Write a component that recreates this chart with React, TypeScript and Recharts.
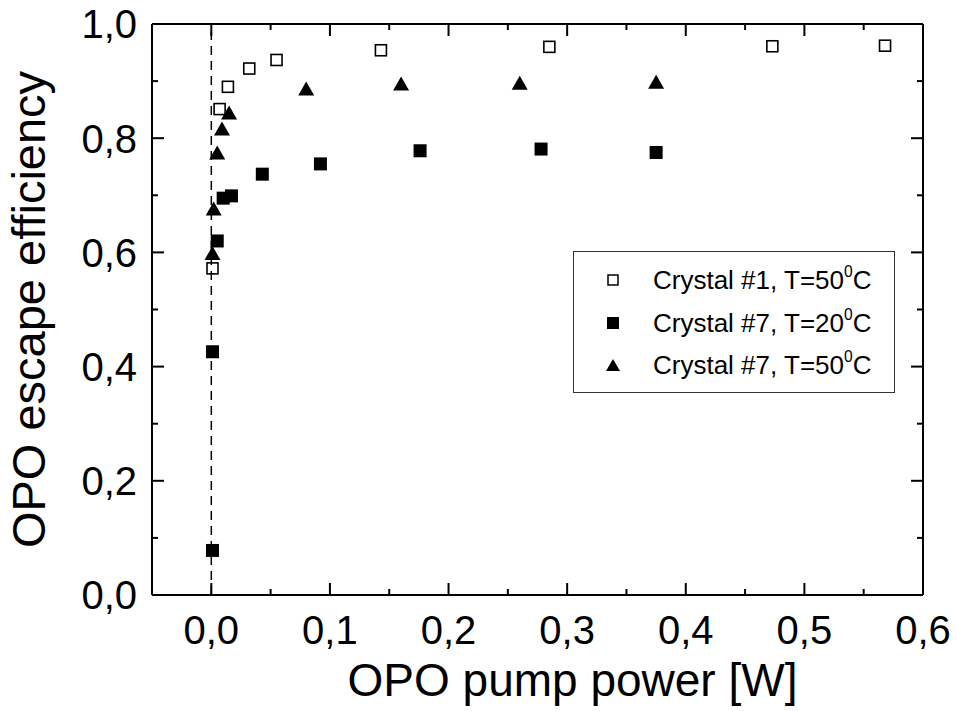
import { ScatterChart, Scatter, XAxis, YAxis, ReferenceLine, Legend, Label } from 'recharts';

const FONT = '"Liberation Sans", Arial, Helvetica, sans-serif';

// Crystal #1, T=50°C (open squares)
const c1X = [0.001, 0.007, 0.014, 0.032, 0.055, 0.143, 0.285, 0.473, 0.568];
const c1Y = [0.572, 0.851, 0.89, 0.922, 0.937, 0.954, 0.96, 0.961, 0.962];

// Crystal #7, T=20°C (filled squares)
const c7cX = [0.001, 0.001, 0.005, 0.01, 0.017, 0.043, 0.092, 0.176, 0.278, 0.375];
const c7cY = [0.078, 0.426, 0.62, 0.695, 0.699, 0.737, 0.755, 0.778, 0.781, 0.775];

// Crystal #7, T=50°C (triangles)
const c7hX = [0.001, 0.002, 0.005, 0.009, 0.015, 0.08, 0.16, 0.26, 0.375];
const c7hY = [0.599, 0.677, 0.775, 0.817, 0.845, 0.887, 0.896, 0.897, 0.899];

const seriesLabels = ['Crystal #1, T=50', 'Crystal #7, T=20', 'Crystal #7, T=50'];

const xTicks = [-0.05, 0, 0.05, 0.1, 0.15, 0.2, 0.25, 0.3, 0.35, 0.4, 0.45, 0.5, 0.55, 0.6];
const yTicks = [0, 0.1, 0.2, 0.3, 0.4, 0.5, 0.6, 0.7, 0.8, 0.9, 1.0];

const zip = (xs: number[], ys: number[]) => xs.map((x, i) => ({ x, y: ys[i] }));

const fmt = (v: number) => v.toFixed(1).replace('.', ',');
const isMultiple = (v: number, step: number) => Math.abs(v / step - Math.round(v / step)) < 1e-6;

// layout
const W = 957;
const H = 711;
const M_TOP = 23;
const M_RIGHT = 33;
const LEFT_W = 152;
const BOTTOM_H = 116;
const PLOT_W = W - M_RIGHT - 1 - LEFT_W;
const PLOT_H = H - M_TOP - 1 - BOTTOM_H;

const MAJOR = 12;
const MINOR = 6;

// top axis draws inward ticks on top and bottom edges of the frame
function TopTick(props: any) {
  const { x, y, payload } = props;
  const len = isMultiple(payload.value, 0.1) ? MAJOR : MINOR;
  const yb = y + PLOT_H;
  return (
    <g>
      <line x1={x} x2={x} y1={y} y2={y + len} stroke="#000" strokeWidth={2} />
      <line x1={x} x2={x} y1={yb} y2={yb - len} stroke="#000" strokeWidth={2} />
    </g>
  );
}

// right axis draws inward ticks on right and left edges
function RightTick(props: any) {
  const { x, y, payload } = props;
  const len = isMultiple(payload.value, 0.2) ? MAJOR : MINOR;
  const xl = x - PLOT_W;
  return (
    <g>
      <line x1={x} x2={x - len} y1={y} y2={y} stroke="#000" strokeWidth={2} />
      <line x1={xl} x2={xl + len} y1={y} y2={y} stroke="#000" strokeWidth={2} />
    </g>
  );
}

function BottomLabel(props: any) {
  const { x, y, payload } = props;
  if (!isMultiple(payload.value, 0.1)) return <g />;
  return (
    <text x={x} y={y + 21} dy="0.71em" textAnchor="middle" fontSize={40} fontFamily={FONT} fill="#000">
      {fmt(payload.value)}
    </text>
  );
}

function LeftLabel(props: any) {
  const { x, y, payload } = props;
  if (!isMultiple(payload.value, 0.2)) return <g />;
  return (
    <text x={x - 15} y={y} dy="0.36em" textAnchor="end" fontSize={40} fontFamily={FONT} fill="#000">
      {fmt(payload.value)}
    </text>
  );
}

const openSquare = (p: any) => (
  <rect x={p.cx - 5.5} y={p.cy - 5.5} width={11} height={11} fill="none" stroke="#000" strokeWidth={1.6} />
);
const filledSquare = (p: any) => <rect x={p.cx - 6.5} y={p.cy - 6.5} width={13} height={13} fill="#000" />;
const triangle = (p: any) => (
  <polygon points={`${p.cx - 8},${p.cy + 7} ${p.cx + 8},${p.cy + 7} ${p.cx},${p.cy - 7}`} fill="#000" />
);
const nothing = () => <g />;

function LegendSymbol({ i }: { i: number }) {
  return (
    <svg width={24} height={24} style={{ display: 'block' }}>
      {i === 0 && <rect x={7} y={7} width={10} height={10} fill="none" stroke="#000" strokeWidth={1.5} />}
      {i === 1 && <rect x={6} y={6} width={12} height={12} fill="#000" />}
      {i === 2 && <polygon points="5,18 19,18 12,6" fill="#000" />}
    </svg>
  );
}

function LegendBox() {
  return (
    <div
      style={{
        width: 322,
        height: 142,
        border: '1.5px solid #333',
        boxSizing: 'border-box',
        background: '#fff',
        fontFamily: FONT,
        fontSize: 26,
        position: 'relative',
        color: '#000',
      }}
    >
      {seriesLabels.map((label, i) => (
        <div
          key={label + i}
          style={{ position: 'absolute', left: 27, top: 7 + i * 42.5, height: 42, display: 'flex', alignItems: 'center' }}
        >
          <LegendSymbol i={i} />
          <span style={{ marginLeft: 28, whiteSpace: 'nowrap', lineHeight: '42px' }}>
            {label}
            <sup style={{ fontSize: '0.6em', verticalAlign: '0.75em', lineHeight: 0 }}>0</sup>C
          </span>
        </div>
      ))}
    </div>
  );
}

export default function App() {
  return (
    <div style={{ position: 'absolute', left: 0, top: 0, background: '#fff' }}>
      <ScatterChart width={W} height={H} margin={{ top: M_TOP, right: M_RIGHT, bottom: 0, left: 0 }}>
        <XAxis
          xAxisId="b"
          type="number"
          dataKey="x"
          domain={[-0.05, 0.6]}
          ticks={xTicks}
          interval={0}
          allowDataOverflow
          height={BOTTOM_H}
          tickSize={0}
          tickMargin={0}
          tickLine={false}
          tick={BottomLabel}
          stroke="#000"
          axisLine={{ stroke: '#000', strokeWidth: 2 }}
        >
          <Label
            value="OPO pump power [W]"
            position="insideBottom"
            offset={15}
            dx={35}
            style={{ fontSize: 46, fontFamily: FONT, fill: '#000' }}
          />
        </XAxis>
        <XAxis
          xAxisId="t"
          orientation="top"
          type="number"
          dataKey="x"
          domain={[-0.05, 0.6]}
          ticks={xTicks}
          interval={0}
          allowDataOverflow
          height={1}
          tickSize={0}
          tickMargin={0}
          tickLine={false}
          tick={TopTick}
          stroke="#000"
          axisLine={{ stroke: '#000', strokeWidth: 2 }}
        />
        <YAxis
          yAxisId="l"
          type="number"
          dataKey="y"
          domain={[0, 1]}
          ticks={yTicks}
          interval={0}
          allowDataOverflow
          width={LEFT_W}
          tickSize={0}
          tickMargin={0}
          tickLine={false}
          tick={LeftLabel}
          stroke="#000"
          axisLine={{ stroke: '#000', strokeWidth: 2 }}
        >
          <Label
            value="OPO escape efficiency"
            angle={-90}
            position="insideLeft"
            offset={28}
            style={{ fontSize: 47, fontFamily: FONT, fill: '#000', textAnchor: 'middle' }}
          />
        </YAxis>
        <YAxis
          yAxisId="r"
          orientation="right"
          type="number"
          dataKey="y"
          domain={[0, 1]}
          ticks={yTicks}
          interval={0}
          allowDataOverflow
          width={1}
          tickSize={0}
          tickMargin={0}
          tickLine={false}
          tick={RightTick}
          stroke="#000"
          axisLine={{ stroke: '#000', strokeWidth: 2 }}
        />
        <ReferenceLine xAxisId="b" yAxisId="l" x={0} stroke="#000" strokeWidth={1.5} strokeDasharray="9 6" />
        {/* invisible series so the mirrored top/right axes get their ticks */}
        <Scatter
          xAxisId="t"
          yAxisId="r"
          data={zip(c1X, c1Y)}
          shape={nothing}
          legendType="none"
          isAnimationActive={false}
        />
        <Scatter
          xAxisId="b"
          yAxisId="l"
          name={seriesLabels[0]}
          data={zip(c1X, c1Y)}
          shape={openSquare}
          isAnimationActive={false}
        />
        <Scatter
          xAxisId="b"
          yAxisId="l"
          name={seriesLabels[1]}
          data={zip(c7cX, c7cY)}
          shape={filledSquare}
          isAnimationActive={false}
        />
        <Scatter
          xAxisId="b"
          yAxisId="l"
          name={seriesLabels[2]}
          data={zip(c7hX, c7hY)}
          shape={triangle}
          isAnimationActive={false}
        />
        <Legend
          layout="vertical"
          align="center"
          verticalAlign="middle"
          content={() => <LegendBox />}
          wrapperStyle={{ left: 573, top: 251, width: 322, height: 142 }}
        />
      </ScatterChart>
    </div>
  );
}
